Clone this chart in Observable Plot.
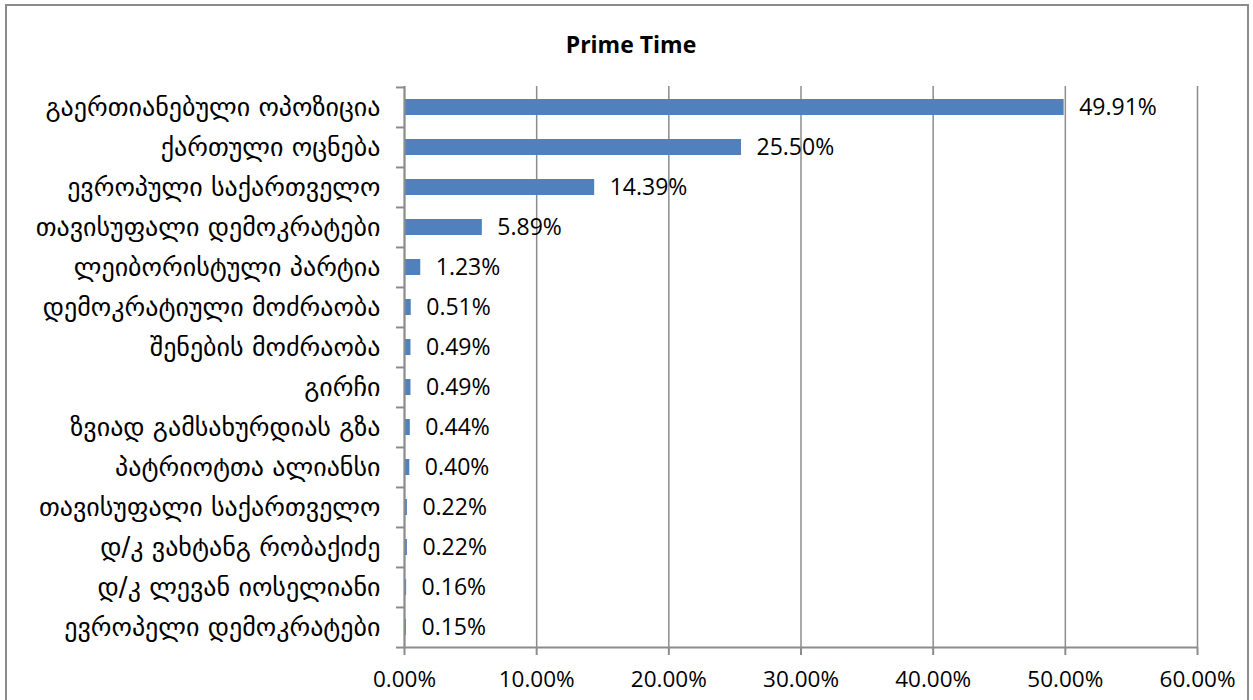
<!DOCTYPE html>
<html>
<head>
<meta charset="utf-8">
<script src="https://cdn.jsdelivr.net/npm/d3@7"></script>
<script src="https://cdn.jsdelivr.net/npm/@observablehq/plot@0.6"></script>
<style>
  html, body { margin: 0; padding: 0; background: #fff; }
  #wrap { position: relative; width: 1253px; height: 700px; overflow: hidden; }
  #border { position: absolute; left: 5px; top: 4px; width: 1244px; height: 720px; border: 2px solid #8c8c8c; box-sizing: border-box; }
  #title { position: absolute; left: 0; top: 28px; width: 1262px; text-align: center; font-family: "Open Sans", "Liberation Sans", sans-serif; font-weight: bold; font-size: 23px; line-height: 32px; color: #000; }
  #chart { position: absolute; left: 0; top: 0; }
</style>
</head>
<body>
<div id="wrap">
  <div id="border"></div>
  <div id="title"></div>
  <div id="chart"></div>
</div>
<script>
const title = "Prime Time";
const parties = [
  "გაერთიანებული ოპოზიცია",
  "ქართული ოცნება",
  "ევროპული საქართველო",
  "თავისუფალი დემოკრატები",
  "ლეიბორისტული პარტია",
  "დემოკრატიული მოძრაობა",
  "შენების მოძრაობა",
  "გირჩი",
  "ზვიად გამსახურდიას გზა",
  "პატრიოტთა ალიანსი",
  "თავისუფალი საქართველო",
  "დ/კ ვახტანგ რობაქიძე",
  "დ/კ ლევან იოსელიანი",
  "ევროპელი დემოკრატები"
];
const shares = [49.91, 25.50, 14.39, 5.89, 1.23, 0.51, 0.49, 0.49, 0.44, 0.40, 0.22, 0.22, 0.16, 0.15];
const xTicks = [0, 10, 20, 30, 40, 50, 60];

const data = parties.map((p, i) => ({party: p, share: shares[i]}));
const fmt = v => v.toFixed(2) + "%";

document.getElementById("title").textContent = title;

const W = 1253, H = 700;
const mTop = 86, mBottom = 53, mLeft = 404, mRight = 56;
const step = (H - mTop - mBottom) / parties.length;
const grid = "#8c8c8c";

const chart = Plot.plot({
  width: W,
  height: H,
  marginTop: mTop,
  marginBottom: mBottom,
  marginLeft: mLeft,
  marginRight: mRight,
  style: {background: "transparent", overflow: "visible"},
  x: {domain: [0, 60]},
  y: {domain: parties, padding: 0},
  marks: [
    Plot.gridX(xTicks, {stroke: grid, strokeOpacity: 1, strokeWidth: 1.5}),
    Plot.barX(data, {x: "share", y: "party", fill: "#4F81BD", insetTop: 12, insetBottom: 12}),
    Plot.text(data, {x: "share", y: "party", text: d => fmt(d.share), textAnchor: "start", dx: 15,
      fontSize: 23, fontFamily: "Open Sans, sans-serif", fill: "#000"}),
    Plot.ruleX([0], {stroke: grid, strokeWidth: 2}),
    Plot.ruleY([parties[parties.length - 1]], {stroke: grid, strokeWidth: 2, dy: step / 2}),
    Plot.axisY({tickSize: 0, tickPadding: 24, fontSize: 26, fontFamily: "DejaVu Sans, sans-serif", color: "#000", label: null}),
    Plot.axisY({tickSize: 8, tickFormat: () => "", dy: -step / 2, stroke: grid, strokeWidth: 2, label: null}),
    Plot.axisY([parties[parties.length - 1]], {tickSize: 8, tickFormat: () => "", dy: step / 2, stroke: grid, strokeWidth: 2, label: null}),
    Plot.axisX(xTicks, {tickSize: 8, tickPadding: 16, tickFormat: fmt, fontSize: 22.5,
      fontFamily: "Open Sans, sans-serif", color: "#000",
      stroke: grid, strokeWidth: 2, label: null})
  ]
});
document.getElementById("chart").appendChild(chart);
</script>
</body>
</html>
